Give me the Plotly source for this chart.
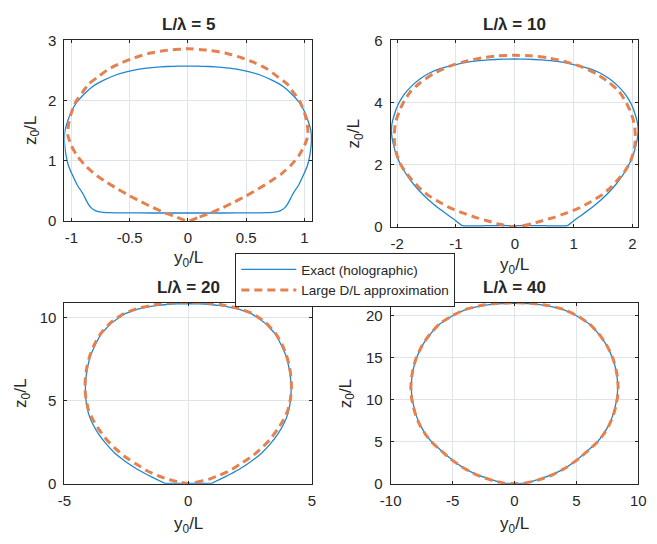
import plotly.graph_objects as go

# ---------------- data (half-widths |y0/L| and heights z0/L) ----------------
titles = ["L/λ = 5", "L/λ = 10", "L/λ = 20", "L/λ = 40"]

exact5_w = [0, 0.30, 0.55, 0.67, 0.74, 0.79, 0.83, 0.86, 0.90, 0.95, 0.99, 1.025, 1.045, 1.057, 1.06, 1.055,
            1.03, 1.0, 0.955, 0.89, 0.82, 0.73, 0.625, 0.52, 0.405, 0.29, 0.18, 0.08, 0]
exact5_z = [0.135, 0.135, 0.137, 0.14, 0.148, 0.17, 0.22, 0.30, 0.45, 0.60, 0.76, 0.92, 1.08, 1.25, 1.35, 1.5,
            1.67, 1.82, 1.97, 2.11, 2.23, 2.33, 2.42, 2.48, 2.525, 2.55, 2.565, 2.57, 2.57]
approx5_w = [0, 0.10, 0.20, 0.30, 0.40, 0.50, 0.60, 0.70, 0.80, 0.88, 0.95, 1.0, 1.03, 1.025, 1.0, 0.96,
             0.9, 0.85, 0.76, 0.68, 0.58, 0.46, 0.32, 0.16, 0]
approx5_z = [0, 0.07, 0.14, 0.225, 0.32, 0.42, 0.53, 0.65, 0.78, 0.92, 1.08, 1.25, 1.42, 1.6, 1.8, 1.99,
             2.15, 2.28, 2.41, 2.525, 2.62, 2.71, 2.79, 2.84, 2.86]

exact10_w = [0, 0.5, 0.89, 1.03, 1.2, 1.38, 1.55, 1.71, 1.83, 1.93, 2.01, 2.07, 2.095, 2.09, 2.05, 1.98,
             1.88, 1.76, 1.62, 1.45, 1.27, 1.0, 0.72, 0.45, 0.2, 0]
exact10_z = [0.04, 0.04, 0.04, 0.24, 0.47, 0.73, 1.02, 1.35, 1.65, 1.97, 2.3, 2.7, 3.0, 3.3, 3.6, 3.95,
             4.26, 4.52, 4.75, 4.95, 5.09, 5.22, 5.32, 5.37, 5.395, 5.40]
approx10_w = [0, 0.14, 0.28, 0.47, 0.67, 0.9, 1.11, 1.3, 1.49, 1.64, 1.77, 1.88, 1.96, 2.01, 2.04, 2.05,
              2.04, 2.01, 1.96, 1.88, 1.77, 1.6, 1.38, 1.12, 0.83, 0.55, 0.28, 0]
approx10_z = [0, 0.04, 0.10, 0.2, 0.31, 0.46, 0.62, 0.82, 1.04, 1.29, 1.56, 1.82, 2.08, 2.35, 2.6, 2.9,
              3.2, 3.47, 3.74, 4.05, 4.36, 4.65, 4.93, 5.16, 5.33, 5.44, 5.50, 5.52]

exact20_w = [0, 0.5, 0.95, 1.05, 1.5, 2.06, 2.55, 2.97, 3.33, 3.63, 3.86, 4.02, 4.11, 4.15, 4.15, 4.12,
             4.05, 3.95, 3.75, 3.5, 3.1, 2.58, 2.0, 1.3, 0.65, 0]
exact20_z = [0.02, 0.02, 0.02, 0.1, 0.42, 0.87, 1.35, 1.85, 2.42, 3.01, 3.6, 4.18, 4.8, 5.4, 5.92, 6.5,
             7.1, 7.67, 8.35, 9.03, 9.65, 10.19, 10.5, 10.7, 10.8, 10.82]
approx20_w = [0, 0.3, 0.6, 0.88, 1.25, 1.67, 2.1, 2.58, 2.97, 3.3, 3.6, 3.85, 4.03, 4.13, 4.17, 4.15,
              4.08, 3.96, 3.78, 3.52, 3.12, 2.6, 2.0, 1.3, 0.65, 0]
approx20_z = [0, 0.08, 0.18, 0.29, 0.5, 0.78, 1.18, 1.65, 2.15, 2.65, 3.25, 3.85, 4.45, 5.1, 5.8, 6.4,
              7.1, 7.75, 8.4, 9.05, 9.7, 10.22, 10.55, 10.77, 10.87, 10.9]

exact40_w = [0, 0.5, 0.95, 1.6, 2.4, 3.15, 4.25, 5.24, 6.2, 6.7, 7.15, 7.55, 7.88, 8.12, 8.28, 8.33,
             8.3, 8.18, 7.98, 7.7, 7.33, 6.75, 6.02, 5.0, 3.94, 2.8, 1.5, 0]
exact40_z = [0.02, 0.02, 0.04, 0.36, 0.75, 1.15, 2.0, 3.08, 4.3, 5.0, 5.85, 6.8, 7.9, 9.1, 10.3, 11.4,
             12.5, 13.6, 14.7, 15.7, 16.73, 17.9, 19.04, 20.0, 20.72, 21.15, 21.42, 21.5]
approx40_w = [0, 0.8, 1.6, 2.4, 3.15, 4.25, 5.25, 6.2, 6.72, 7.18, 7.58, 7.92, 8.16, 8.32, 8.37,
              8.33, 8.2, 8.0, 7.72, 7.35, 6.77, 6.04, 5.02, 3.96, 2.8, 1.5, 0]
approx40_z = [0, 0.06, 0.3, 0.68, 1.12, 1.98, 3.05, 4.28, 5.0, 5.85, 6.8, 7.9, 9.1, 10.3, 11.4,
              12.5, 13.6, 14.7, 15.7, 16.75, 17.92, 19.06, 20.02, 20.75, 21.2, 21.47, 21.55]

xticks = [[-1, -0.5, 0, 0.5, 1], [-2, -1, 0, 1, 2], [-5, 0, 5], [-10, -5, 0, 5, 10]]
yticks = [[0, 1, 2, 3], [0, 2, 4, 6], [0, 5, 10], [0, 5, 10, 15, 20]]
xranges = [[-1.06, 1.065], [-2.11, 2.1], [-5, 5], [-10, 10]]
yranges = [[0, 3], [0, 6], [0, 10.87], [0, 21.54]]

series_names = ["Exact (holographic)", "Large D/L approximation"]
x_title = "y<sub>0</sub>/L"
y_title = "z<sub>0</sub>/L"

# ---------------- layout geometry (px in 657x544) ----------------
W, H = 657, 544
boxes = [  # left, right, top, bottom
    (55, 310, 32.3, 219),
    (391, 646, 32.3, 225),
    (55, 310, 303.3, 490),
    (391, 646, 303.3, 490),
]
ytitle_x = [21, 354, 12, 346]
xtitle_gap = [39, 40, 43, 43]

BLUE = "#1f86d0"
ORANGE = "#e5814f"
FONT = "Liberation Sans, Arial, sans-serif"
TXT = "#262626"


def closed(w, z):
    xs = list(w) + [-v for v in reversed(w)]
    zs = list(z) + list(reversed(z))
    return xs, zs


exact = [(exact5_w, exact5_z), (exact10_w, exact10_z), (exact20_w, exact20_z), (exact40_w, exact40_z)]
approx = [(approx5_w, approx5_z), (approx10_w, approx10_z), (approx20_w, approx20_z), (approx40_w, approx40_z)]

fig = go.Figure()
layout = dict(
    width=W, height=H, margin=dict(l=0, r=0, t=0, b=0),
    paper_bgcolor="white", plot_bgcolor="white",
    font=dict(family=FONT, color=TXT, size=15),
    showlegend=True,
)
annotations = []
for i in range(4):
    sfx = "" if i == 0 else str(i + 1)
    xa, ya = "x" + sfx, "y" + sfx
    ex, ez = closed(*exact[i])
    ax_, az_ = closed(*approx[i])
    fig.add_trace(go.Scatter(x=ex, y=ez, mode="lines", xaxis=xa, yaxis=ya,
                             line=dict(color=BLUE, width=1.3, shape="spline", smoothing=0.3),
                             name=series_names[0], showlegend=(i == 0), legendrank=1))
    fig.add_trace(go.Scatter(x=ax_, y=az_, mode="lines", xaxis=xa, yaxis=ya,
                             line=dict(color=ORANGE, width=3, dash="8px,5px", shape="spline", smoothing=0.4),
                             name=series_names[1], showlegend=(i == 0), legendrank=2))
    l, r, t, b = boxes[i]
    common = dict(showline=True, linecolor=TXT, linewidth=1, mirror="ticks", ticks="inside",
                  ticklen=3, tickcolor=TXT, showgrid=True, gridcolor="#dfe4ea", gridwidth=1,
                  zeroline=False, tickfont=dict(size=15, color=TXT, family=FONT))
    layout["xaxis" + sfx] = dict(common, domain=[l / W, r / W], anchor=ya, range=xranges[i],
                                 tickvals=xticks[i], ticktext=[str(v) for v in xticks[i]],
                                 ticklabelstandoff=3)
    layout["yaxis" + sfx] = dict(common, domain=[1 - b / H, 1 - t / H], anchor=xa, range=yranges[i],
                                 tickvals=yticks[i], ticktext=[str(v) for v in yticks[i]],
                                 ticklabelstandoff=4)
    annotations.append(dict(text="<b>" + titles[i] + "</b>", x=(l + r) / 2 / W, y=1 - (t - 4) / H,
                            xref="paper", yref="paper", xanchor="center", yanchor="bottom",
                            showarrow=False, font=dict(size=17, color=TXT, family=FONT)))
    annotations.append(dict(text=x_title, x=(l + r) / 2 / W, y=1 - (b + xtitle_gap[i]) / H,
                            xref="paper", yref="paper", xanchor="center", yanchor="middle",
                            showarrow=False, font=dict(size=17, color=TXT, family=FONT)))
    annotations.append(dict(text=y_title, x=ytitle_x[i] / W, y=1 - (t + b) / 2 / H, textangle=-90,
                            xref="paper", yref="paper", xanchor="center", yanchor="middle",
                            showarrow=False, font=dict(size=17, color=TXT, family=FONT)))

layout["annotations"] = annotations
layout["legend"] = dict(x=231 / W, y=1 - 252 / H, xanchor="left", yanchor="top",
                        bgcolor="white", bordercolor=TXT, borderwidth=1,
                        font=dict(size=13.5, color=TXT, family=FONT),
                        itemwidth=55, tracegroupgap=0)
fig.update_layout(**layout)
fig.write_html("out.html")
